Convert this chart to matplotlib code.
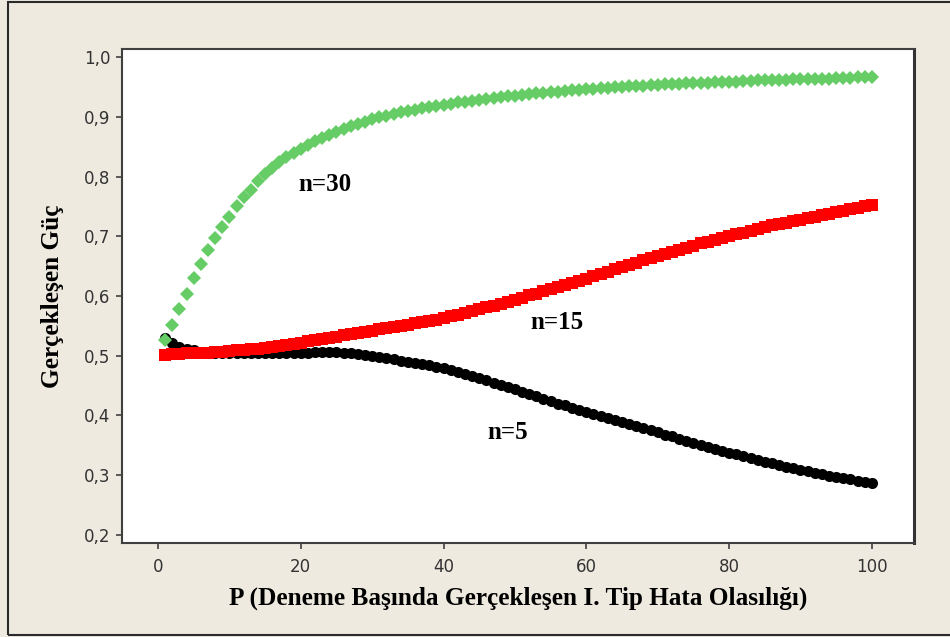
#!/usr/bin/env python3
# -*- coding: utf-8 -*-
"""
Gerçekleşen güç grafiği (n=5, n=15, n=30) - Minitab tarzı scatter
"""

import matplotlib
matplotlib.use("Agg")
import matplotlib.pyplot as plt
from matplotlib.patches import Rectangle

# --- 1. Veri ---
p_values = list(range(1, 101))

power_n5 = [
    0.530, 0.521, 0.515, 0.512, 0.509, 0.507, 0.506, 0.505, 0.504, 0.504,
    0.504, 0.504, 0.504, 0.504, 0.504, 0.505, 0.505, 0.505, 0.505, 0.505,
    0.505, 0.506, 0.506, 0.506, 0.506, 0.505, 0.504, 0.503, 0.502, 0.500,
    0.498, 0.496, 0.494, 0.492, 0.490, 0.488, 0.486, 0.484, 0.481, 0.479,
    0.476, 0.473, 0.469, 0.466, 0.462, 0.459, 0.455, 0.451, 0.448, 0.444,
    0.440, 0.436, 0.432, 0.428, 0.424, 0.420, 0.417, 0.413, 0.410, 0.406,
    0.403, 0.399, 0.396, 0.392, 0.389, 0.386, 0.382, 0.379, 0.375, 0.372,
    0.368, 0.365, 0.361, 0.358, 0.354, 0.351, 0.348, 0.344, 0.341, 0.338,
    0.335, 0.332, 0.329, 0.326, 0.323, 0.320, 0.317, 0.314, 0.312, 0.309,
    0.307, 0.304, 0.302, 0.299, 0.297, 0.295, 0.293, 0.291, 0.289, 0.287,
]

power_n15 = [
    0.502, 0.503, 0.503, 0.504, 0.504, 0.505, 0.505, 0.506, 0.507, 0.508,
    0.509, 0.510, 0.511, 0.512, 0.513, 0.515, 0.516, 0.518, 0.520, 0.522,
    0.524, 0.526, 0.528, 0.530, 0.532, 0.534, 0.536, 0.538, 0.540, 0.542,
    0.544, 0.546, 0.548, 0.550, 0.552, 0.554, 0.556, 0.558, 0.560, 0.563,
    0.566, 0.569, 0.572, 0.575, 0.578, 0.581, 0.584, 0.587, 0.590, 0.594,
    0.597, 0.601, 0.604, 0.608, 0.611, 0.615, 0.618, 0.622, 0.625, 0.629,
    0.633, 0.637, 0.641, 0.645, 0.648, 0.652, 0.656, 0.660, 0.663, 0.667,
    0.670, 0.674, 0.677, 0.681, 0.684, 0.688, 0.691, 0.694, 0.697, 0.700,
    0.703, 0.706, 0.709, 0.712, 0.715, 0.718, 0.720, 0.723, 0.726, 0.728,
    0.731, 0.733, 0.736, 0.738, 0.740, 0.743, 0.745, 0.747, 0.750, 0.752,
]

power_n30 = [
    0.526, 0.552, 0.578, 0.604, 0.630, 0.654, 0.677, 0.697, 0.715, 0.733,
    0.751, 0.765, 0.778, 0.792, 0.804, 0.815, 0.825, 0.833, 0.840, 0.846,
    0.853, 0.859, 0.865, 0.870, 0.875, 0.880, 0.884, 0.888, 0.892, 0.896,
    0.899, 0.902, 0.905, 0.908, 0.910, 0.912, 0.914, 0.916, 0.918, 0.920,
    0.922, 0.924, 0.925, 0.927, 0.928, 0.930, 0.931, 0.933, 0.934, 0.935,
    0.937, 0.938, 0.939, 0.940, 0.941, 0.942, 0.943, 0.944, 0.945, 0.946,
    0.947, 0.948, 0.948, 0.949, 0.950, 0.951, 0.951, 0.952, 0.953, 0.953,
    0.954, 0.955, 0.955, 0.956, 0.956, 0.957, 0.957, 0.958, 0.958, 0.959,
    0.959, 0.960, 0.960, 0.961, 0.961, 0.962, 0.962, 0.962, 0.963, 0.963,
    0.963, 0.964, 0.964, 0.964, 0.965, 0.965, 0.965, 0.966, 0.966, 0.966,
]

x_ticks = [0, 20, 40, 60, 80, 100]
y_ticks = [0.2, 0.3, 0.4, 0.5, 0.6, 0.7, 0.8, 0.9, 1.0]

# --- 2. Stil ---
BG = '#EEEAE0'
SPINE = '#404040'
SERIF = ['Liberation Serif', 'DejaVu Serif']

fig = plt.figure(figsize=(9.5, 6.37), dpi=100, facecolor=BG)
ax = fig.add_axes([122 / 950, 1 - 543 / 637, 792 / 950, 494 / 637])
ax.set_facecolor('white')

# dış çerçeve
fig.patches.append(Rectangle((8 / 950, 2 / 637), 1.0, 633 / 637,
                             transform=fig.transFigure, fill=False,
                             edgecolor='#2a2a2a', lw=1.5, zorder=0))

# --- 3. Seriler (siyah -> kırmızı -> yeşil) ---
ax.plot(p_values, power_n5, ls='none', marker='o', ms=8.0,
        mfc='black', mec='black', mew=0, zorder=2)
ax.plot(p_values, power_n15, ls='none', marker='s', ms=8.8,
        mfc='#FF0000', mec='#FF0000', mew=0, zorder=3)
ax.plot(p_values, power_n30, ls='none', marker='D', ms=7.2,
        mfc='#66CC66', mec='#66CC66', mew=0, zorder=4)

# etiketler
ANN = dict(family=SERIF, fontweight='bold', fontsize=18,
           ha='center', va='center')
ax.text(23.4, 0.786, 'n=30', **ANN)
ax.text(55.9, 0.556, 'n=15', **ANN)
ax.text(49.0, 0.372, 'n=5', **ANN)

# --- 4. Eksenler ---
ax.set_xlim(-5.04, 105.9)
ax.set_ylim(0.1866, 1.0134)
ax.set_xticks(x_ticks)
ax.set_xticklabels([str(t) for t in x_ticks])
ax.set_yticks(y_ticks)
ax.set_yticklabels([f'{t:.1f}'.replace('.', ',') for t in y_ticks])

ax.tick_params(axis='both', direction='out', length=4.5, width=1.2,
               color=SPINE, labelcolor='#333333', labelsize=12)
ax.tick_params(axis='x', pad=6)
ax.tick_params(axis='y', pad=4)

for side in ['left', 'bottom', 'top']:
    ax.spines[side].set_color(SPINE)
    ax.spines[side].set_linewidth(1.5)
ax.spines['right'].set_color('#333333')
ax.spines['right'].set_linewidth(2.2)

ax.set_xlabel('P (Deneme Başında Gerçekleşen I. Tip Hata Olasılığı)',
              family=SERIF, fontweight='bold', fontsize=18.2, labelpad=8)
ax.set_ylabel('Gerçekleşen Güç', family=SERIF, fontweight='bold',
              fontsize=18.2, labelpad=14)

fig.savefig('out.png', dpi=100, facecolor=BG)
